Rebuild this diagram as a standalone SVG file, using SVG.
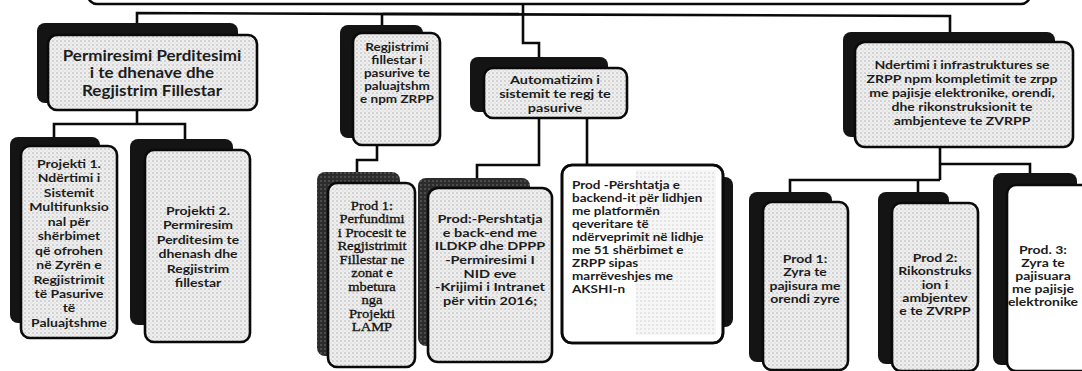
<svg xmlns="http://www.w3.org/2000/svg" width="1082" height="371" viewBox="0 0 1082 371">
<defs>
<pattern id="dots" width="4" height="4" patternUnits="userSpaceOnUse">
<rect width="4" height="4" fill="#efefef"/>
<circle cx="1" cy="1" r="0.9" fill="#c6c6c6"/>
<circle cx="3" cy="3" r="0.7" fill="#d4d4d4"/>
</pattern>
<pattern id="light" width="4" height="4" patternUnits="userSpaceOnUse">
<rect width="4" height="4" fill="#f6f6f6"/>
<circle cx="1" cy="1" r="0.8" fill="#d0d0d0"/>
</pattern>
<pattern id="dark" width="4" height="4" patternUnits="userSpaceOnUse">
<rect width="4" height="4" fill="#2c2c2c"/>
<circle cx="1" cy="1" r="0.9" fill="#5a5a5a"/>
</pattern>
</defs>
<style>
.sh{fill:#141414}
.sh2{fill:url(#dark)}
.box{fill:url(#dots);stroke:#0a0a0a;stroke-width:2.6}
.wbox{fill:#fff;stroke:#0a0a0a;stroke-width:2.6}
.c{fill:none;stroke:#0a0a0a;stroke-width:2.6}
.t{font-family:Lato,"Open Sans",sans-serif;font-weight:bold;fill:#1c1c1c;text-anchor:middle}
.tl{font-family:Lato,"Open Sans",sans-serif;font-weight:bold;fill:#1c1c1c;text-anchor:start}
.ts{font-family:"Liberation Serif",serif;fill:#111;text-anchor:middle;stroke:#111;stroke-width:0.35}
</style>
<rect width="1082" height="371" fill="#fff"/>

<g id="node-top">
<rect x="88" y="-30" width="942" height="34" rx="9" class="wbox"/>
</g>

<g id="connectors">
<polyline class="c" points="137,23 137,13 950,16 950,32"/>
<line class="c" x1="383" y1="14" x2="519" y2="14" stroke-width="4.5"/>
<line class="c" x1="382" y1="14" x2="382" y2="25"/>
<polyline class="c" points="523,4 523,43 539,43 539,57"/>
<polyline class="c" points="137,110 137,124"/>
<polyline class="c" points="54,137 54,124 185,124 185,139"/>
<polyline class="c" points="377,145 377,160 357,160 357,172"/>
<polyline class="c" points="539,118 539,165 477,165 477,178"/>
<polyline class="c" points="587,118 587,165"/>
<polyline class="c" points="940,147 940,180"/>
<polyline class="c" points="940,164 1030,164 1030,174"/>
<polyline class="c" points="790,192 790,180 940,180"/>
<polyline class="c" points="918,180 918,192"/>
</g>

<g id="node-a">
<rect x="37" y="23" width="201" height="80" rx="8" class="sh"/>
<rect x="48" y="35" width="209" height="75" rx="9" class="box"/>
<text class="t" font-size="17" transform="translate(0,61) scale(1,0.85)"><tspan x="152" y="0">Permiresimi Perditesimi</tspan><tspan x="152" y="20">i te dhenave dhe</tspan><tspan x="152" y="41.2">Regjistrim Fillestar</tspan></text>
</g>

<g id="node-b">
<rect x="10" y="137" width="90" height="186" rx="8" class="sh"/>
<rect x="21" y="146" width="96" height="192" rx="9" class="box"/>
<text class="t" font-size="14" transform="translate(0,168) scale(1,0.86)"><tspan x="69" y="0">Projekti 1.</tspan><tspan x="69" y="16.8">Ndërtimi i</tspan><tspan x="69" y="33.6">Sistemit</tspan><tspan x="69" y="50.4">Multifunksio</tspan><tspan x="69" y="67.2">nal për</tspan><tspan x="69" y="84">shërbimet</tspan><tspan x="69" y="100.8">që ofrohen</tspan><tspan x="69" y="117.6">në Zyrën e</tspan><tspan x="69" y="134.4">Regjistrimit</tspan><tspan x="69" y="151.2">të Pasurive</tspan><tspan x="69" y="168">të</tspan><tspan x="69" y="184.8">Paluajtshme</tspan></text>
</g>

<g id="node-c">
<rect x="130" y="139" width="103" height="186" rx="8" class="sh"/>
<rect x="145" y="150" width="105" height="192" rx="9" class="box"/>
<text class="t" font-size="14" transform="translate(0,215) scale(1,0.86)"><tspan x="198" y="0">Projekti 2.</tspan><tspan x="198" y="16.74">Permiresim</tspan><tspan x="198" y="33.5">Perditesim te</tspan><tspan x="198" y="50.2">dhenash dhe</tspan><tspan x="198" y="67">Regjistrim</tspan><tspan x="198" y="83.7">fillestar</tspan></text>
</g>

<g id="node-d">
<rect x="340" y="25" width="83" height="113" rx="8" class="sh"/>
<rect x="353" y="33" width="87" height="112" rx="9" class="box"/>
<text class="t" font-size="13.5" transform="translate(0,51) scale(1,0.8)"><tspan x="397" y="0">Regjistrimi</tspan><tspan x="397" y="16.25">fillestar i</tspan><tspan x="397" y="32.5">pasurive te</tspan><tspan x="397" y="48.75">paluajtshm</tspan><tspan x="397" y="65">e npm ZRPP</tspan></text>
</g>

<g id="node-f">
<rect x="470" y="57" width="138" height="55" rx="8" class="sh"/>
<rect x="484" y="68" width="143" height="50" rx="9" class="box"/>
<text class="t" font-size="14.5" transform="translate(0,84) scale(1,0.8)"><tspan x="555" y="0">Automatizim i</tspan><tspan x="555" y="17.5">sistemit te regj te</tspan><tspan x="555" y="35">pasurive</tspan></text>
</g>

<g id="node-g">
<rect x="843" y="32" width="212" height="105" rx="8" class="sh"/>
<rect x="855" y="42" width="218" height="105" rx="10" class="box"/>
<text class="t" font-size="14" transform="translate(0,69) scale(1,0.83)"><tspan x="962" y="0">Ndertimi i infrastruktures se</tspan><tspan x="962" y="16.87">ZRPP npm kompletimit te zrpp</tspan><tspan x="962" y="33.73">me pajisje elektronike, orendi,</tspan><tspan x="962" y="50.6">dhe rikonstruksionit te</tspan><tspan x="962" y="67.47">ambjenteve te ZVRPP</tspan></text>
</g>

<g id="node-e">
<rect x="317" y="172" width="83" height="184" rx="8" class="sh2"/>
<rect x="328" y="183" width="87" height="184" rx="9" class="box"/>
<text class="ts" font-size="14.5" transform="translate(0,210) scale(1,0.84)"><tspan x="372" y="0">Prod 1:</tspan><tspan x="372" y="16.07">Perfundimi</tspan><tspan x="372" y="32.14">i Procesit te</tspan><tspan x="372" y="48.21">Regjistrimit</tspan><tspan x="372" y="64.28">Fillestar ne</tspan><tspan x="372" y="80.35">zonat e</tspan><tspan x="372" y="96.42">mbetura</tspan><tspan x="372" y="112.49">nga</tspan><tspan x="372" y="128.56">Projekti</tspan><tspan x="372" y="144.63">LAMP</tspan></text>
</g>

<g id="node-k">
<rect x="418" y="178" width="112" height="168" rx="8" class="sh2"/>
<rect x="428" y="188" width="124" height="174" rx="10" class="box"/>
<text class="t" font-size="14.5" transform="translate(0,223) scale(1,0.77)"><tspan x="490" y="0">Prod:-Pershtatja</tspan><tspan x="490" y="17.79">e back-end me</tspan><tspan x="490" y="35.58">ILDKP dhe DPPP</tspan><tspan x="490" y="53.38">-Permiresimi I</tspan><tspan x="490" y="71.17">NID eve</tspan><tspan x="490" y="88.96">-Krijimi i Intranet</tspan><tspan x="490" y="106.75">për vitin 2016;</tspan></text>
</g>

<g id="node-l">
<rect x="610" y="177" width="123" height="150" rx="8" class="sh"/>
<rect x="562" y="165" width="161" height="178" rx="10" class="wbox"/>
<rect x="636" y="170" width="80" height="165" fill="url(#light)"/>
<rect x="562" y="165" width="161" height="178" rx="10" fill="none" stroke="#0a0a0a" stroke-width="2.6"/>
<text class="tl" font-size="13.5" transform="translate(0,189) scale(1,0.8)"><tspan x="572" y="0">Prod -Përshtatja e</tspan><tspan x="572" y="16.25">backend-it për lidhjen</tspan><tspan x="572" y="32.5">me platformën</tspan><tspan x="572" y="48.75">qeveritare të</tspan><tspan x="572" y="65">ndërveprimit në lidhje</tspan><tspan x="572" y="81.25">me 51 shërbimet e</tspan><tspan x="572" y="97.5">ZRPP sipas</tspan><tspan x="572" y="113.75">marrëveshjes me</tspan><tspan x="572" y="130">AKSHI-n</tspan></text>
</g>

<g id="node-h">
<rect x="749" y="192" width="83" height="170" rx="8" class="sh"/>
<rect x="763" y="202" width="85" height="168" rx="9" class="box"/>
<text class="t" font-size="14" transform="translate(0,263) scale(1,0.78)"><tspan x="805" y="0">Prod 1:</tspan><tspan x="805" y="17.18">Zyra te</tspan><tspan x="805" y="34.36">pajisura me</tspan><tspan x="805" y="51.54">orendi zyre</tspan></text>
</g>

<g id="node-i">
<rect x="878" y="192" width="71" height="172" rx="8" class="sh"/>
<rect x="892" y="203" width="86" height="168" rx="9" class="box"/>
<text class="t" font-size="14" transform="translate(0,262) scale(1,0.78)"><tspan x="935" y="0">Prod 2:</tspan><tspan x="935" y="17.05">Rikonstruks</tspan><tspan x="935" y="34.1">ion i</tspan><tspan x="935" y="51.15">ambjentev</tspan><tspan x="935" y="68.2">e te ZVRPP</tspan></text>
</g>

<g id="node-j">
<rect x="993" y="173" width="84" height="192" rx="8" class="sh"/>
<rect x="1007" y="185" width="86" height="186" rx="9" class="wbox"/>
<text class="t" font-size="14" transform="translate(0,254) scale(1,0.77)"><tspan x="1043" y="0">Prod. 3:</tspan><tspan x="1043" y="16.88">Zyra te</tspan><tspan x="1043" y="33.77">pajisuara</tspan><tspan x="1043" y="50.65">me pajisje</tspan><tspan x="1043" y="67.53">elektronike</tspan></text>
</g>
</svg>
